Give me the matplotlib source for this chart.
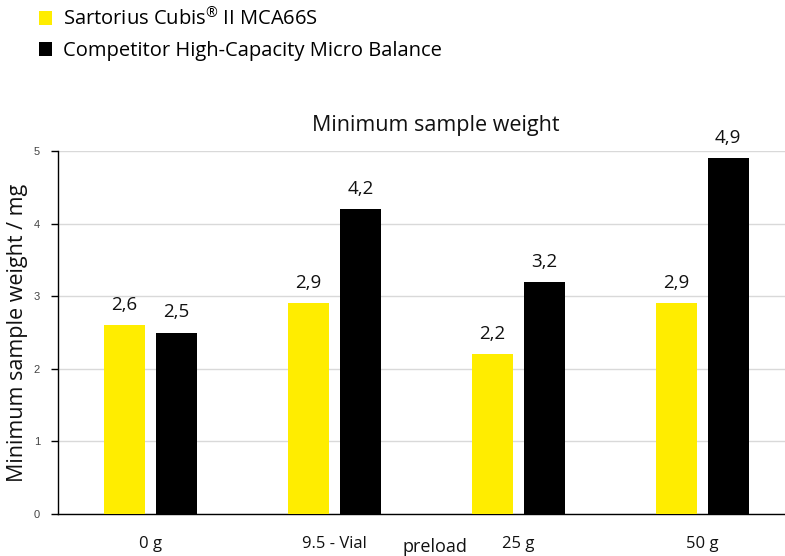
import matplotlib
matplotlib.use("Agg")
import matplotlib.pyplot as plt
import numpy as np

categories = ["0 g", "9.5 - Vial", "25 g", "50 g"]
sartorius = [2.6, 2.9, 2.2, 2.9]
competitor = [2.5, 4.2, 3.2, 4.9]
series_names = ["Sartorius Cubis$^{\\mathregular{®}}$ II MCA66S", "Competitor High-Capacity Micro Balance"]
yticks = [0, 1, 2, 3, 4, 5]

FONT = "Open Sans"
YELLOW = "#FFED00"
TXT = "#111111"
plt.rcParams["mathtext.fontset"] = "custom"
plt.rcParams["mathtext.rm"] = FONT

fig = plt.figure(figsize=(7.85, 5.56), dpi=100)
ax = fig.add_axes([58/785, 1-514/556, 1-58/785, (514-151)/556])

x = np.arange(len(categories))
w = 0.223
off = 0.141
b1 = ax.bar(x - off, sartorius, w, color=YELLOW, zorder=3, label=series_names[0])
b2 = ax.bar(x + off, competitor, w, color="black", zorder=3, label=series_names[1])

def fmt(v):
    return f"{v:.1f}".replace(".", ",")

for bars, vals in ((b1, sartorius), (b2, competitor)):
    for r, v in zip(bars, vals):
        ax.annotate(fmt(v), (r.get_x() + r.get_width()/2, v), xytext=(0, 8),
                    textcoords="offset points", ha="center", va="bottom",
                    fontsize=13.5, family=FONT, color=TXT)

ax.set_xlim(-0.503, 3.45)
ax.set_ylim(0, 5)
ax.set_yticks(yticks)
ax.set_yticklabels([str(t) for t in yticks], family="Liberation Sans", fontsize=8, color="#444444")
ax.set_xticks(x)
ax.set_xticklabels(categories, family=FONT, fontsize=12, color=TXT)
ax.tick_params(axis="x", length=0, pad=16)
ax.tick_params(axis="y", length=5, width=1, color="black", pad=8)
ax.grid(axis="y", color="#d9d9d9", linewidth=1, zorder=0)
for s in ("top", "right"):
    ax.spines[s].set_visible(False)
ax.spines["left"].set_linewidth(1)
ax.spines["bottom"].set_linewidth(1)

ax.set_ylabel("Minimum sample weight / mg", family=FONT, fontsize=15.5, color=TXT, labelpad=4)
fig.text(435/785, 1-547/556, "preload", ha="center", va="center", family=FONT, fontsize=13, color=TXT)
fig.text(436/785, 1-126/556, "Minimum sample weight", ha="center", va="center", family=FONT, fontsize=15.5, color=TXT)

fig.legend(handles=[b1, b2], loc="upper left", bbox_to_anchor=(31/785, 1+1/556), frameon=False,
           prop={"family": FONT, "size": 14.5}, handlelength=0.66, handleheight=0.66,
           handletextpad=0.55, labelspacing=0.55, borderaxespad=0)

fig.savefig("out.png", dpi=100)
